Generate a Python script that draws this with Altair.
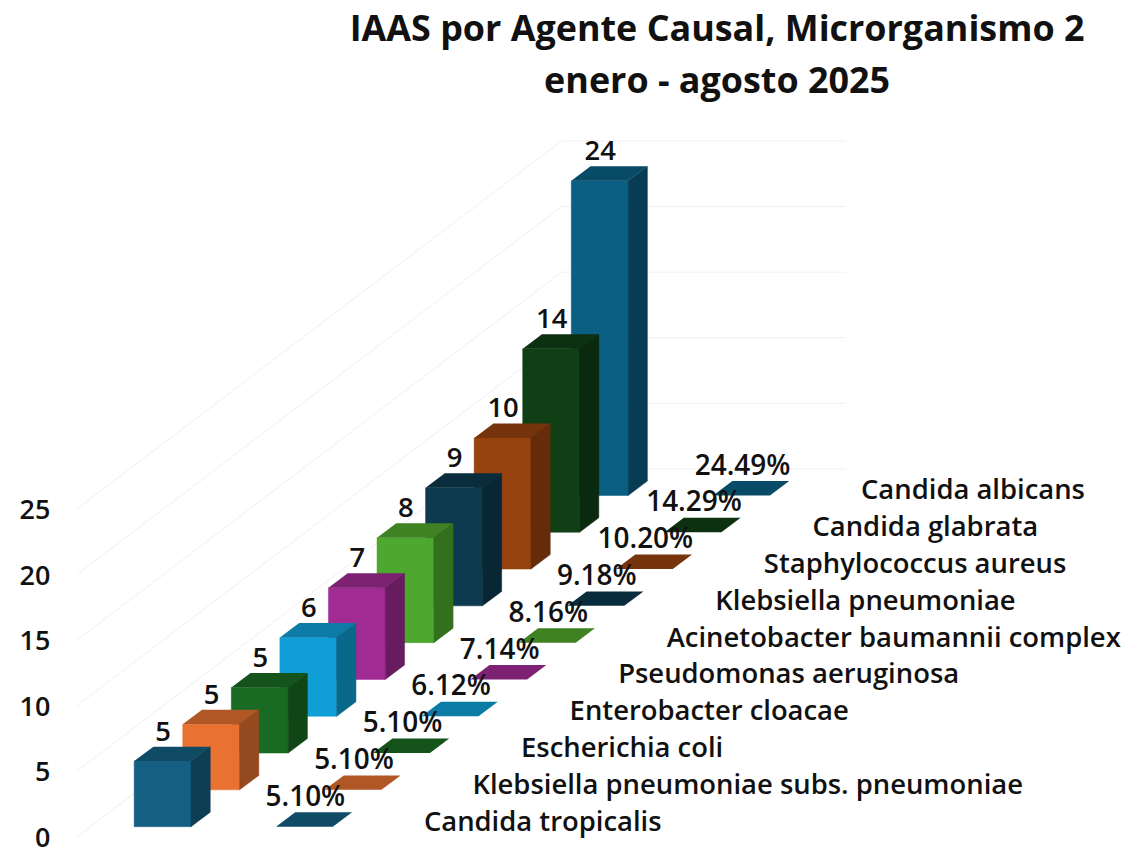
import altair as alt
import pandas as pd

title_lines = ["IAAS por Agente Causal, Microrganismo 2", "enero - agosto 2025"]
categories = ["Candida tropicalis", "Klebsiella pneumoniae subs. pneumoniae", "Escherichia coli",
              "Enterobacter cloacae", "Pseudomonas aeruginosa", "Acinetobacter baumannii complex",
              "Klebsiella pneumoniae", "Staphylococcus aureus", "Candida glabrata", "Candida albicans"]
values = [5, 5, 5, 6, 7, 8, 9, 10, 14, 24]
percents = ["5.10%", "5.10%", "5.10%", "6.12%", "7.14%", "8.16%", "9.18%", "10.20%", "14.29%", "24.49%"]
ticks = [0, 5, 10, 15, 20, 25]
front = ["#156082", "#E97132", "#196B24", "#0F9ED5", "#A02B93", "#4EA72E", "#0D3A4E", "#974310", "#103F15", "#0A5F82"]
side = ["#0E3E54", "#95491F", "#104516", "#0A688B", "#671C5F", "#33701E", "#082633", "#642C0B", "#0A290E", "#063D54"]
top = ["#104B66", "#B05725", "#14541B", "#0C7BA6", "#7D2272", "#3E8223", "#0A2D3D", "#76340D", "#0D3110", "#084B66"]

FONT = "Open Sans"
PX = 13.15            # pixels per unit of the value axis
STEP_X, STEP_Y = 48.7, 36.9 / PX    # step of the oblique floor, per category
DEPTH_X, DEPTH_Y = 19.3, 14.5 / PX  # depth of a bar
BAR_W = 57.0
X0, Y0 = 134.5, 0.78  # floor position of the first bar
SLAB = 142.2          # horizontal offset of the percentage plates
WALL_X = 77.0
WALL_DX, WALL_DY = 486.0, 369.0 / PX
GRID_R = 848.0

PAGE_BOTTOM = 850
xs = alt.Scale(domain=[55, 1125], nice=False, zero=False)
ys = alt.Scale(domain=[(838 - PAGE_BOTTOM) / PX, (838 - 108) / PX], nice=False, zero=False)
axis_y = alt.Axis(values=ticks, title=None, grid=False, domain=False, ticks=False,
                  labelFont=FONT, labelFontSize=27, labelFontWeight=600, labelOffset=1.5,
                  labelColor="#111111", labelPadding=5, labelFlush=False, labelOverlap=False)
X = alt.X("x:Q", scale=xs, axis=None)
X2 = alt.X2("x2:Q")
Y = alt.Y("y:Q", scale=ys, axis=axis_y)
Y2 = alt.Y2("y2:Q")


def side_face(x, base, v, color):
    d = pd.DataFrame({"x": [x, x + DEPTH_X], "y": [base + v, base + v + DEPTH_Y], "y2": [base, base + DEPTH_Y]})
    return alt.Chart(d).mark_area(color=color, stroke=color, strokeWidth=0.5, interpolate="linear").encode(X, Y, Y2)


def top_face(x, level, color):
    d = pd.DataFrame({"y": [level, level + DEPTH_Y], "x": [x, x + DEPTH_X], "x2": [x + BAR_W, x + BAR_W + DEPTH_X]})
    return alt.Chart(d).mark_area(color=color, orient="horizontal", interpolate="linear").encode(X, X2, Y)


def front_face(x, base, v, color):
    d = pd.DataFrame({"x": [x], "x2": [x + BAR_W], "y": [base + v], "y2": [base]})
    return alt.Chart(d).mark_rect(color=color, stroke=color, strokeWidth=0.5).encode(X, X2, Y, Y2)


grid_diag = pd.DataFrame({"x": [WALL_X for _ in ticks], "x2": [WALL_X + WALL_DX for _ in ticks],
                          "y": ticks, "y2": [t + WALL_DY for t in ticks]})
grid_flat = pd.DataFrame({"x": [WALL_X + WALL_DX for _ in ticks], "x2": [GRID_R for _ in ticks],
                          "y": [t + WALL_DY for t in ticks], "y2": [t + WALL_DY for t in ticks]})
layers = [
    alt.Chart(grid_diag).mark_rule(color="#efefef", strokeWidth=1).encode(X, X2, Y, Y2),
    alt.Chart(grid_flat).mark_rule(color="#f1f1f1", strokeWidth=1).encode(X, X2, Y, Y2),
]

for i in range(9, -1, -1):
    bx = X0 + STEP_X * i
    base = Y0 + STEP_Y * i
    layers.append(top_face(bx + SLAB, base, top[i]))
    layers.append(front_face(bx, base, values[i], front[i]))
    layers.append(side_face(bx + BAR_W, base, values[i], side[i]))
    layers.append(top_face(bx, base + values[i], top[i]))

val_df = pd.DataFrame({"x": [X0 + STEP_X * i + BAR_W / 2 + 0.5 for i in range(10)],
                       "y": [Y0 + STEP_Y * i + values[i] + 28.5 / PX for i in range(10)],
                       "label": [str(v) for v in values]})
pct_df = pd.DataFrame({"x": [X0 + STEP_X * i + SLAB + BAR_W / 2 + 1 for i in range(10)],
                       "y": [Y0 + STEP_Y * i + 29 / PX for i in range(10)],
                       "label": percents})
cat_df = pd.DataFrame({"x": [425 + STEP_X * i for i in range(10)],
                       "y": [Y0 + STEP_Y * i + 4 / PX for i in range(10)],
                       "label": categories})
for df, al, size in ((val_df, "center", 27.5), (pct_df, "center", 28), (cat_df, "left", 27.5)):
    layers.append(alt.Chart(df).mark_text(font=FONT, fontSize=size, fontWeight=600, color="#111111",
                                          align=al, baseline="middle")
                  .encode(X, Y, text="label:N"))

chart = alt.layer(*layers).properties(
    width=1070, height=PAGE_BOTTOM - 108,
    autosize=alt.AutoSizeParams(type="none"),
    padding={"left": 47, "top": 100, "right": 0, "bottom": 0},
    title=alt.TitleParams(text=title_lines, anchor="middle", dx=129, offset=8, font=FONT, fontSize=36,
                          fontWeight="bold", color="#111111", lineHeight=52),
).configure_view(stroke=None)

chart.save("out.html", embed_options={"renderer": "svg", "actions": False})
